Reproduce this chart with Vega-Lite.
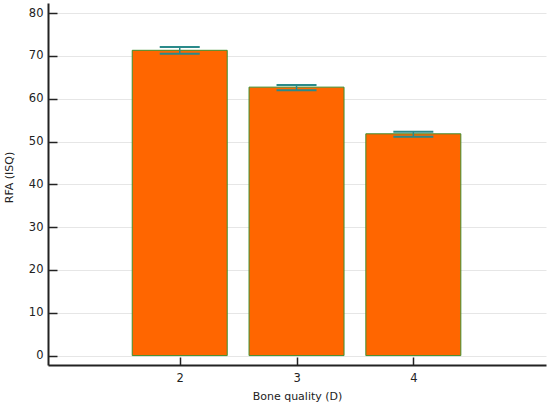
{
  "$schema": "https://vega.github.io/schema/vega-lite/v6.json",
  "width": 498,
  "height": 362,
  "autosize": {"type": "none"},
  "padding": {"left": 48, "top": 3, "right": 4, "bottom": 42},
  "background": "white",
  "config": {
    "view": {"stroke": null},
    "font": "DejaVu Sans",
    "axis": {"labelFont": "DejaVu Sans", "titleFont": "DejaVu Sans", "labelFontSize": 11.5, "titleFontSize": 11, "titleFontWeight": "normal", "labelColor": "#222222", "titleColor": "#222222"}
  },
  "data": {
    "values": [
      {"quality": 2, "rfa": 71.3, "lo": 70.5, "hi": 72.1},
      {"quality": 3, "rfa": 62.7, "lo": 62.0, "hi": 63.2},
      {"quality": 4, "rfa": 51.8, "lo": 51.1, "hi": 52.3}
    ]
  },
  "layer": [
    {
      "mark": {"type": "bar", "size": 95, "color": "#ff6600", "stroke": "#3f8f2f", "strokeWidth": 1},
      "encoding": {
        "x": {
          "field": "quality", "type": "quantitative", "title": "Bone quality (D)",
          "scale": {"domain": [0.915, 5.093], "nice": false, "zero": false},
          "axis": {"values": [2, 3, 4], "format": "d", "grid": false, "domainColor": "#222222", "domainWidth": 2, "tickColor": "#222222", "tickWidth": 1.5, "tickSize": -8, "labelPadding": 15, "titlePadding": 7}
        },
        "y": {
          "field": "rfa", "type": "quantitative", "title": "RFA (ISQ)",
          "scale": {"domain": [-2.2, 82.35], "nice": false, "zero": false},
          "axis": {
            "values": [0, 5, 10, 15, 20, 25, 30, 35, 40, 45, 50, 55, 60, 65, 70, 75, 80],
            "labelExpr": "datum.value % 10 === 0 ? datum.label : ''",
            "grid": true,
            "gridColor": "#e6e6e6",
            "gridOpacity": {"condition": {"test": "datum.value % 10 === 0", "value": 1}, "value": 0},
            "tickSize": {"condition": {"test": "datum.value % 10 === 0", "value": -9}, "value": -5},
            "domainColor": "#222222", "domainWidth": 2, "tickColor": "#222222", "tickWidth": 1.5,
            "labelPadding": 14, "titlePadding": 14, "titleY": 174
          }
        }
      }
    },
    {
      "mark": {"type": "rule", "color": "#2a8a8a", "strokeWidth": 1.5},
      "encoding": {
        "x": {"field": "quality", "type": "quantitative"},
        "y": {"field": "lo", "type": "quantitative"},
        "y2": {"field": "hi"}
      }
    },
    {
      "mark": {"type": "tick", "orient": "horizontal", "size": 40, "thickness": 2, "color": "#2a8a8a", "opacity": 1},
      "encoding": {
        "x": {"field": "quality", "type": "quantitative"},
        "y": {"field": "lo", "type": "quantitative"}
      }
    },
    {
      "mark": {"type": "tick", "orient": "horizontal", "size": 40, "thickness": 2, "color": "#2a8a8a", "opacity": 1},
      "encoding": {
        "x": {"field": "quality", "type": "quantitative"},
        "y": {"field": "hi", "type": "quantitative"}
      }
    }
  ]
}
